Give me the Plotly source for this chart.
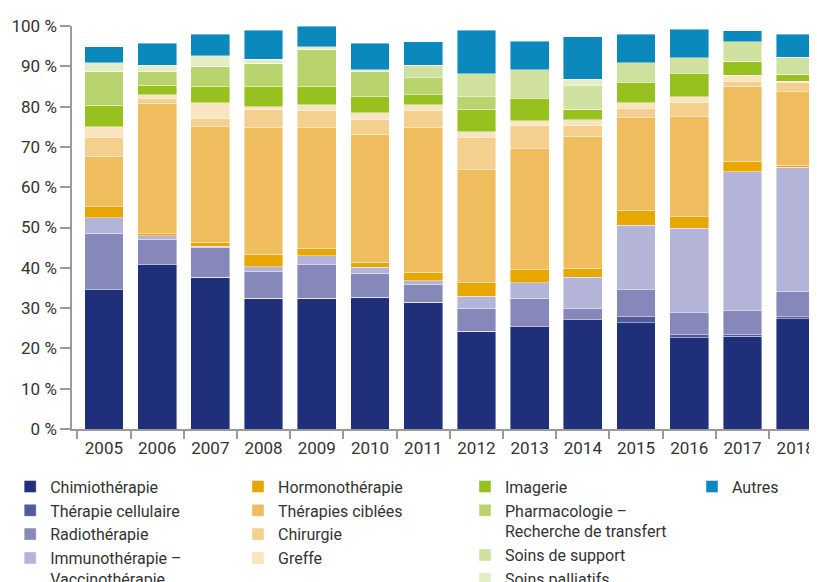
import plotly.graph_objects as go

years = ["2005", "2006", "2007", "2008", "2009", "2010", "2011",
         "2012", "2013", "2014", "2015", "2016", "2017", "2018"]

chimiotherapie      = [34.5, 40.7, 37.6, 32.5, 32.5, 32.7, 31.5, 24.2, 25.4, 27.1, 26.4, 22.6, 23.0, 27.3]
therapie_cellulaire = [0.0, 0.0, 0.0, 0.0, 0.0, 0.0, 0.0, 0.0, 0.0, 0.0, 1.5, 0.8, 0.4, 0.5]
radiotherapie       = [14.1, 6.4, 7.5, 6.6, 8.4, 6.0, 4.3, 5.8, 7.1, 2.7, 6.6, 5.5, 5.9, 6.2]
immunotherapie      = [3.8, 0.9, 0.2, 1.2, 2.1, 1.4, 1.0, 3.0, 3.8, 7.8, 16.1, 20.9, 34.5, 30.9]
hormonotherapie     = [2.7, 0.6, 1.1, 3.1, 1.9, 1.3, 2.1, 3.3, 3.2, 2.3, 3.5, 2.9, 2.7, 0.6]
therapies_ciblees   = [12.6, 32.2, 28.6, 31.4, 29.9, 31.8, 35.9, 28.0, 30.1, 32.8, 23.1, 24.8, 18.6, 18.2]
chirurgie           = [4.7, 1.2, 2.1, 4.5, 4.3, 3.5, 4.2, 8.1, 5.8, 2.5, 2.3, 3.4, 1.2, 2.2]
greffe              = [2.6, 0.9, 3.8, 0.7, 1.3, 1.8, 1.5, 1.4, 1.1, 1.6, 1.4, 1.5, 1.5, 0.4]
imagerie            = [5.3, 2.4, 4.2, 5.1, 4.7, 4.1, 2.5, 5.6, 5.5, 2.6, 5.0, 5.7, 3.5, 1.7]
pharmacologie       = [8.5, 3.3, 4.9, 5.6, 9.1, 6.0, 4.1, 3.0, 0.0, 0.0, 0.0, 0.0, 0.0, 0.0]
soins_support       = [0.0, 0.0, 0.0, 0.0, 0.0, 0.0, 3.2, 5.8, 7.2, 5.9, 5.0, 4.0, 4.8, 4.2]
soins_palliatifs    = [2.1, 1.7, 2.6, 1.0, 0.6, 0.6, 0.0, 0.0, 0.0, 1.5, 0.0, 0.0, 0.0, 0.0]
autres              = [3.9, 5.4, 5.4, 7.3, 5.2, 6.5, 5.8, 10.8, 7.0, 10.5, 7.0, 7.1, 2.7, 5.7]

y_ticks = [0, 10, 20, 30, 40, 50, 60, 70, 80, 90, 100]

series = [
    ("Chimiothérapie", chimiotherapie, "#1f2f7a", "legend"),
    ("Thérapie cellulaire", therapie_cellulaire, "#525a9b", "legend"),
    ("Radiothérapie", radiotherapie, "#8688b9", "legend"),
    ("Immunothérapie –<br>Vaccinothérapie", immunotherapie, "#b3b4d7", "legend"),
    ("Hormonothérapie", hormonotherapie, "#e8a700", "legend2"),
    ("Thérapies ciblées", therapies_ciblees, "#efbd5e", "legend2"),
    ("Chirurgie", chirurgie, "#f4cf8e", "legend2"),
    ("Greffe", greffe, "#fae3bf", "legend2"),
    ("Imagerie", imagerie, "#96c11f", "legend3"),
    ("Pharmacologie –<br>Recherche de transfert", pharmacologie, "#b9d46f", "legend3"),
    ("Soins de support", soins_support, "#cfe09f", "legend3"),
    ("Soins palliatifs", soins_palliatifs, "#e3edc6", "legend3"),
    ("Autres", autres, "#0b89bd", "legend4"),
]

fig = go.Figure()
for i, (name, vals, color, leg) in enumerate(series):
    fig.add_trace(go.Bar(
        x=years, y=vals, name=name,
        marker=dict(color=color, line=dict(color="rgba(255,255,255,0.7)", width=0.6)),
        legend=leg, legendgroup=f"g{i}",
        hovertemplate="%{x}: %{y} %<extra>" + name.replace("<br>", " ") + "</extra>",
    ))

font_color = "#333333"
leg_common = dict(
    orientation="v", yanchor="top", xanchor="left",
    font=dict(family="Roboto", size=16, color=font_color),
    bgcolor="rgba(0,0,0,0)", borderwidth=0, tracegroupgap=0,
    valign="top", itemclick=False, itemdoubleclick=False,
)
leg_y = -0.1008

# the page body adds an 8 px offset on the left and top
fig.update_layout(
    width=809, height=574,
    margin=dict(l=64, r=0, t=18, b=153, autoexpand=False),
    paper_bgcolor="white", plot_bgcolor="white",
    barmode="stack", bargap=0.27,
    font=dict(family="Roboto", size=17, color=font_color),
    legend=dict(x=-0.083, y=leg_y, **leg_common),
    legend2=dict(x=0.2228, y=leg_y, **leg_common),
    legend3=dict(x=0.5275, y=leg_y, **leg_common),
    legend4=dict(x=0.8322, y=leg_y, **leg_common),
    xaxis=dict(
        type="category", range=[-0.6, 13.4],
        showline=True, linecolor="#9a9a9a", linewidth=1.5,
        ticks="outside", tickson="boundaries", ticklen=8, tickcolor="#9a9a9a", tickwidth=1.5,
        showgrid=False, zeroline=False, ticklabelstandoff=3,
        tickfont=dict(family="Roboto", size=17, color=font_color),
    ),
    yaxis=dict(
        range=[0, 100], tickvals=y_ticks, ticktext=[f"{v} %" for v in y_ticks],
        showline=True, linecolor="#9a9a9a", linewidth=1.5,
        ticks="outside", ticklen=10, tickcolor="#9a9a9a", tickwidth=1.5,
        showgrid=False, zeroline=False,
        tickfont=dict(family="Roboto", size=17, color=font_color),
    ),
)

fig.write_html("out.html")
